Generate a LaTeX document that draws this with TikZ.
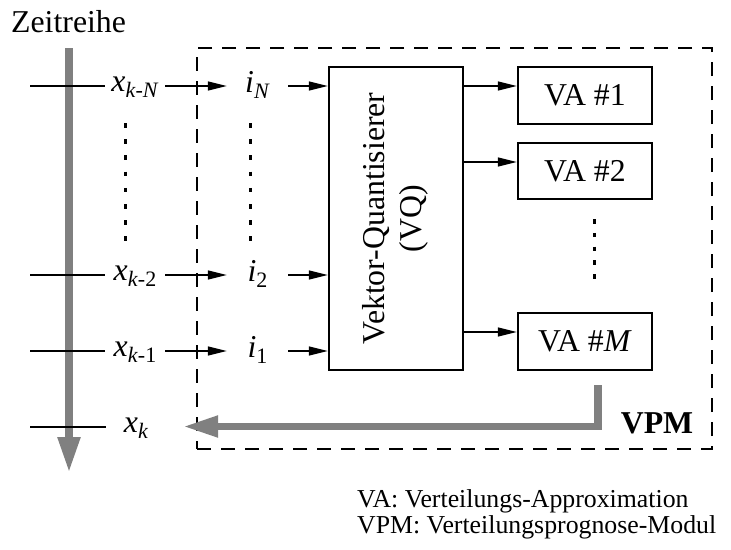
\documentclass[tikz,border=0pt]{standalone}
\usepackage{fontspec}
\setmainfont{Liberation Serif}
\usepackage{graphicx}
\usetikzlibrary{arrows.meta}
\newcommand\subtxt[2]{#1\raisebox{-6.5pt}{\fontsize{22}{22}\selectfont #2}}
\begin{document}
\begin{tikzpicture}[x=1pt,y=-1pt,
  thinline/.style={line width=1.4pt},
  arr/.style={thinline,-{Triangle[length=19pt,width=9pt]}},
  box/.style={draw,line width=2.5pt,inner sep=0pt,minimum width=134pt},
  lbl/.style={inner sep=0pt,minimum width=60pt,text height=10pt,text depth=0pt},
  ilbl/.style={inner sep=0pt,minimum width=61pt,text height=12pt,text depth=0pt},
  dotcol/.style={line width=3pt,dash pattern=on 4.5pt off 11.7pt},
  dotcolb/.style={line width=3pt,dash pattern=on 4.5pt off 9.3pt},
  grayarr/.style={draw=gray,line width=8pt,-{Triangle[length=36pt,width=21pt]}},
  dashbox/.style={draw,line width=1.3pt,dash pattern=on 14pt off 10pt,inner sep=0pt},
  font=\fontsize{31.8}{37}\selectfont]
\useasboundingbox (0,0) rectangle (731,549);

% title
\node[anchor=base west,inner sep=0pt] (title) at (11,32) {Zeitreihe};

% dashed VPM box
\node[dashbox,minimum width=515pt,minimum height=401pt] (vpmbox) at (454.5,248.5) {};
\node[anchor=base,inner sep=0pt,font=\fontsize{31.8}{37}\selectfont\bfseries] (vpm) at (657,433) {VPM};

% time axis
\coordinate (ttop) at (69,48);
\coordinate (tbot) at (69,473);
\draw[grayarr] (ttop) -- (tbot);

% rows
\coordinate (r1) at (30,86);
\coordinate (r2) at (30,275);
\coordinate (r3) at (30,351);
\coordinate (r4) at (30,427);

\node[lbl] (x1) at (135,86) {\subtxt{\textit{x}}{\textit{k}-\textit{N}}};
\node[lbl] (x2) at (135,275) {\subtxt{\textit{x}}{\textit{k}-2}};
\node[lbl] (x3) at (135,351) {\subtxt{\textit{x}}{\textit{k}-1}};
\node[lbl] (xk) at (136,427) {\subtxt{\textit{x}}{\textit{k}}};

\node[ilbl] (i1) at (257.5,86) {\subtxt{\textit{i}}{\textit{N}}};
\node[ilbl] (i2) at (257.5,275) {\subtxt{\textit{i}}{2}};
\node[ilbl] (i3) at (257.5,351) {\subtxt{\textit{i}}{1}};

% vector quantiser
\node[box,minimum height=303pt] (vq) at (396,218.5)
  {\rotatebox{90}{\begin{tabular}{@{}c@{}}Vektor-Quantisierer\\(VQ)\end{tabular}}};

% VA boxes
\node[box,minimum height=57pt] (va1) at (585,95.5) {VA \#1};
\node[box,minimum height=56pt] (va2) at (585,171) {VA \#2};
\node[box,minimum height=57pt] (vam) at (585,341.5) {VA \#\textit{M}};

% input lines
\draw[thinline] (r1) -- (x1.west);
\draw[thinline] (r2) -- (x2.west);
\draw[thinline] (r3) -- (x3.west);
\draw[thinline] (r4) -- (xk.west);
\draw[arr] (x1.east) -- (i1.west);
\draw[arr] (x2.east) -- (i2.west);
\draw[arr] (x3.east) -- (i3.west);
\draw[arr] (i1.east) -- (vq.west |- i1.east);
\draw[arr] (i2.east) -- (vq.west |- i2.east);
\draw[arr] (i3.east) -- (vq.west |- i3.east);

% VQ to VA
\coordinate (a1) at (0,86);
\coordinate (a2) at (0,162);
\coordinate (a3) at (0,332);
\draw[arr] (vq.east |- a1) -- (va1.west |- a1);
\draw[arr] (vq.east |- a2) -- (va2.west |- a2);
\draw[arr] (vq.east |- a3) -- (vam.west |- a3);

% dots
\coordinate (d1t) at (125.5,123);
\coordinate (d1b) at (125.5,241);
\coordinate (d2t) at (250,123);
\coordinate (d2b) at (250,241);
\coordinate (d3t) at (594,219);
\coordinate (d3b) at (594,279);
\draw[dotcol] (d1t) -- (d1b);
\draw[dotcol] (d2t) -- (d2b);
\draw[dotcolb] (d3t) -- (d3b);

% feedback
\coordinate (fb) at (598,385);
\coordinate (fbc) at (598,426.5);
\coordinate (fbe) at (183,426.5);
\draw[draw=gray,line width=7.5pt,line join=miter,-{Triangle[length=35pt,width=20pt]}] (fb) -- (fbc) -- (fbe);

% legend
\node[anchor=base west,inner sep=0pt,font=\fontsize{25.8}{27}\selectfont] (leg1) at (357,507) {VA: Verteilungs-Approximation};
\node[anchor=base west,inner sep=0pt,font=\fontsize{25.8}{27}\selectfont] (leg2) at (357,533) {VPM: Verteilungsprognose-Modul};
\end{tikzpicture}
\end{document}
